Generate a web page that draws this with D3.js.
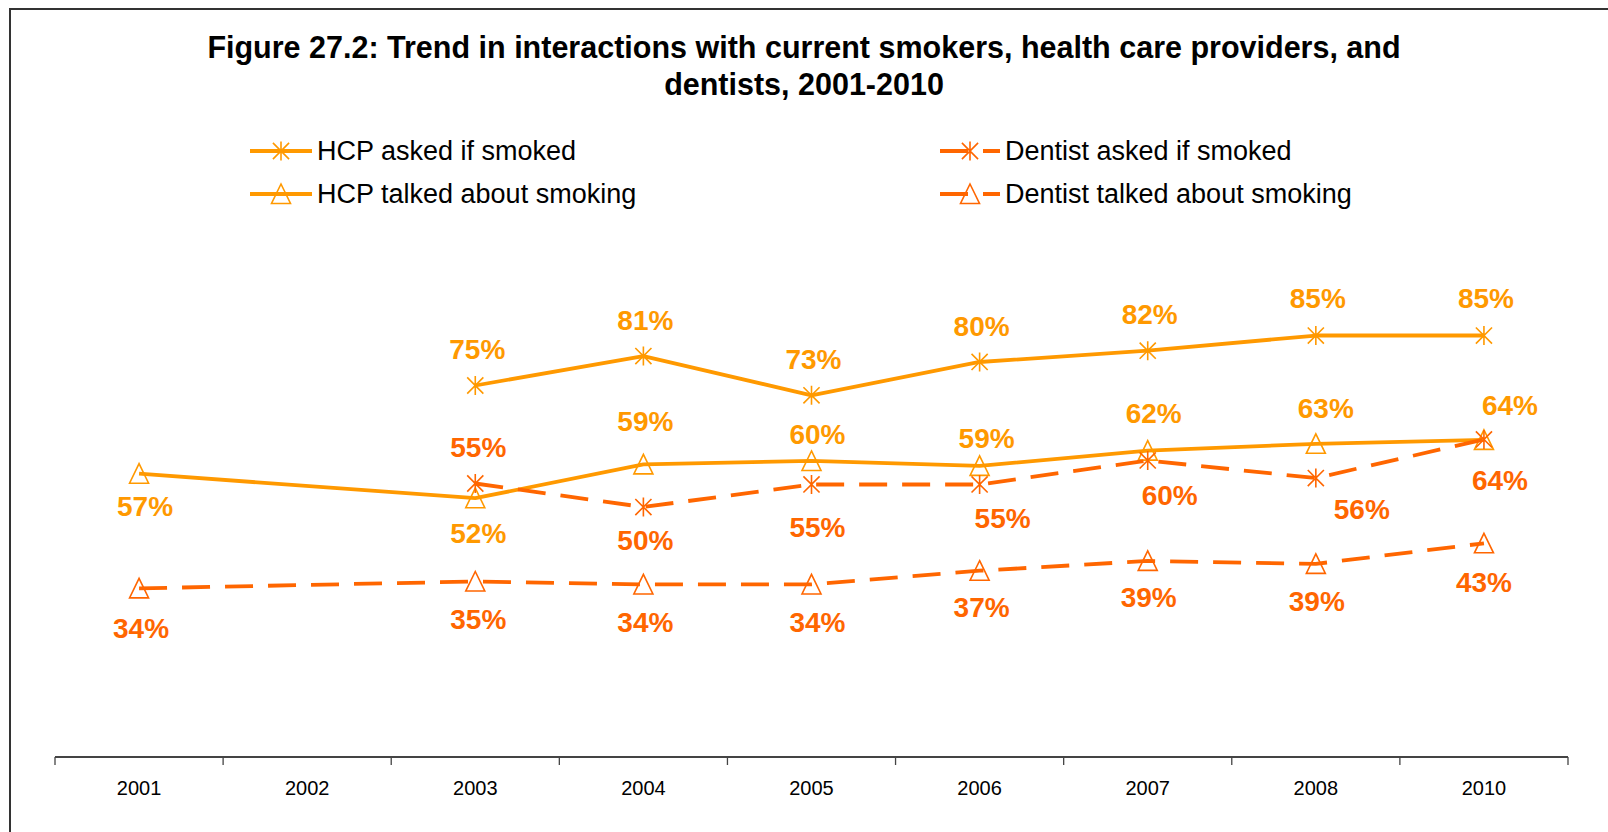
<!DOCTYPE html>
<html>
<head>
<meta charset="utf-8">
<script src="https://cdn.jsdelivr.net/npm/d3@7"></script>
<style>
  html, body { margin: 0; padding: 0; background: #fff; }
  svg { display: block; font-family: "Liberation Sans", Arial, sans-serif; }
</style>
</head>
<body>
<svg id="chart" width="1608" height="832"></svg>
<script>
// ---------------- data ----------------
const years = ["2001", "2002", "2003", "2004", "2005", "2006", "2007", "2008", "2010"];
const hcpAsked     = [null, null, 75, 81, 73, 79.8, 82.1, 85.2, 85.2];
const hcpTalked    = [57, null, 52, 58.9, 59.6, 58.6, 61.7, 63.1, 63.9];
const dentistAsked = [null, null, 55, 50.2, 54.8, 54.8, 59.7, 56.1, 64];
const dentistTalked= [33.6, null, 35.0, 34.4, 34.4, 37.2, 39.2, 38.6, 42.8];
const titleLines = ["Figure 27.2: Trend in interactions with current smokers, health care providers, and",
                    "dentists, 2001-2010"];
const seriesNames = ["HCP asked if smoked", "HCP talked about smoking", "Dentist asked if smoked", "Dentist talked about smoking"];

// ---------------- layout / style ----------------
const W = 1608, H = 832;
const plot = { left: 55, right: 1568, top: 263, bottom: 753, axisY: 757 };
const colHCP = "#FF9900", colDent = "#FF6600";
const dash = "28,15";
// label offsets [dx, dy] (label centre relative to marker)
const offHcpAsked  = [null, null, [2,-36],[2,-36],[2,-36],[2,-35],[2,-36],[2,-37],[2,-37]];
const offHcpTalked = [[6,33], null, [3,35],[2,-43],[6,-26],[7,-27],[6,-37],[10,-35],[26,-34]];
const offDentAsked = [null, null, [3,-36],[2,33],[6,43],[23,34],[22,35],[46,31],[16,41]];
const offDentTalk  = [[2,40], null, [3,38],[2,38],[6,38],[2,37],[1,37],[1,38],[0,39]];

const svg = d3.select("#chart");

// frame
svg.append("path")
  .attr("d", `M10,${H} L10,9 L${W},9`)
  .attr("fill", "none").attr("stroke", "#333").attr("stroke-width", 2);

// title
svg.append("g").selectAll("text").data(titleLines).join("text")
  .attr("x", 804).attr("y", (d, i) => 47 + i * 37)
  .attr("text-anchor", "middle").attr("dominant-baseline", "central")
  .attr("font-weight", "bold").attr("font-size", 30.5).attr("fill", "#000")
  .text(d => d);

// scales
const x = d3.scaleBand().domain(years).range([plot.left, plot.right]).paddingInner(0).paddingOuter(0);
const y = d3.scaleLinear().domain([0, 100]).range([plot.bottom, plot.bottom - 490]);
const cx = yr => x(yr) + x.bandwidth() / 2;

// x axis
const axis = d3.axisBottom(x).tickSize(0).tickPadding(0);
const gx = svg.append("g").attr("transform", `translate(0,${plot.axisY})`).call(axis);
gx.select(".domain").attr("stroke", "#444").attr("stroke-width", 2).attr("d", `M${plot.left},0H${plot.right}`);
gx.selectAll(".tick text").attr("font-size", 20).attr("fill", "#000")
  .attr("font-family", "'Liberation Sans', Arial, sans-serif").attr("dy", 38);
// tick marks at band boundaries
const bounds = years.map(yr => x(yr)).concat([plot.right]);
gx.append("g").selectAll("line").data(bounds).join("line")
  .attr("x1", d => d).attr("x2", d => d).attr("y1", 0).attr("y2", 8)
  .attr("stroke", "#444").attr("stroke-width", 1.3);

// markers
function star(g, size, color) {
  const r = size / 2;
  g.append("path")
    .attr("d", `M0,${-r}V${r}M${-r*0.85},${-r*0.85}L${r*0.85},${r*0.85}M${-r*0.85},${r*0.85}L${r*0.85},${-r*0.85}`)
    .attr("stroke", color).attr("stroke-width", 1.6).attr("fill", "none");
}
function tri(g, size, color) {
  const r = size / 2;
  g.append("path")
    .attr("d", `M0,${-r-0.5}L${r},${r}L${-r},${r}Z`)
    .attr("stroke", color).attr("stroke-width", 1.6).attr("fill", "none");
}

const series = [
  { name: seriesNames[1], vals: hcpTalked,     color: colHCP,  dash: null, marker: tri,  off: offHcpTalked },
  { name: seriesNames[3], vals: dentistTalked, color: colDent, dash: dash, marker: tri,  off: offDentTalk },
  { name: seriesNames[2], vals: dentistAsked,  color: colDent, dash: dash, marker: star, off: offDentAsked },
  { name: seriesNames[0], vals: hcpAsked,      color: colHCP,  dash: null, marker: star, off: offHcpAsked },
];

const line = d3.line().x(d => cx(d.year)).y(d => y(d.v));

series.forEach(s => {
  const pts = years.map((yr, i) => ({ year: yr, v: s.vals[i], off: s.off[i] })).filter(d => d.v != null);
  const g = svg.append("g");
  g.append("path").attr("d", line(pts))
    .attr("fill", "none").attr("stroke", s.color).attr("stroke-width", 3.8)
    .attr("stroke-dasharray", s.dash).attr("stroke-linejoin", "round");
  pts.forEach(p => {
    const mg = g.append("g").attr("transform", `translate(${cx(p.year)},${y(p.v)})`);
    s.marker(mg, 19, s.color);
  });
  g.selectAll("text.lbl").data(pts).join("text").attr("class", "lbl")
    .attr("x", d => cx(d.year) + d.off[0]).attr("y", d => y(d.v) + d.off[1])
    .attr("text-anchor", "middle").attr("dominant-baseline", "central")
    .attr("font-weight", "bold").attr("font-size", 28).attr("fill", s.color)
    .text(d => Math.round(d.v) + "%");
});

// legend
const legend = [
  { name: seriesNames[0], color: colHCP,  dash: null, marker: star, x0: 250, x1: 312, y: 151 },
  { name: seriesNames[1], color: colHCP,  dash: null, marker: tri,  x0: 250, x1: 312, y: 194 },
  { name: seriesNames[2], color: colDent, dash: dash, marker: star, x0: 940, x1: 1000, y: 151 },
  { name: seriesNames[3], color: colDent, dash: dash, marker: tri,  x0: 940, x1: 1000, y: 194 },
];
const lg = svg.append("g");
legend.forEach(l => {
  lg.append("line").attr("x1", l.x0).attr("x2", l.x1).attr("y1", l.y).attr("y2", l.y)
    .attr("stroke", l.color).attr("stroke-width", 3.8).attr("stroke-dasharray", l.dash);
  const mg = lg.append("g").attr("transform", `translate(${(l.x0 + l.x1) / 2},${l.y})`);
  l.marker(mg, 19, l.color);
  lg.append("text").attr("x", l.x1 + 5).attr("y", l.y)
    .attr("dominant-baseline", "central").attr("font-size", 27).attr("fill", "#000")
    .text(l.name);
});
</script>
</body>
</html>
